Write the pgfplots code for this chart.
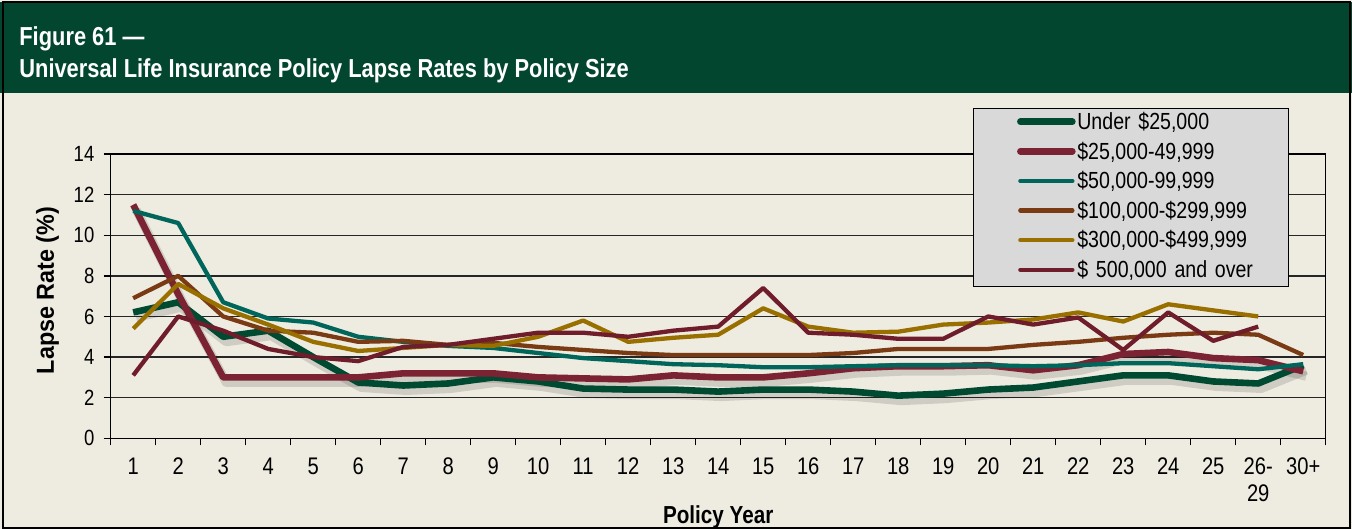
\documentclass[border=0pt]{standalone}
\usepackage{fontspec}
\setmainfont{Liberation Sans}[FakeStretch=0.84]
\newfontfamily\ylabfont{Liberation Sans}[FakeStretch=0.95]
\usepackage{pgfplots}
\usepackage{pgfplotstable}
\pgfplotsset{compat=1.18}
\definecolor{bg}{RGB}{238,236,225}
\definecolor{hdr}{RGB}{2,70,48}
\definecolor{cA}{RGB}{0,74,50}
\definecolor{cB}{RGB}{123,35,50}
\definecolor{cC}{RGB}{0,101,90}
\definecolor{cD}{RGB}{122,58,20}
\definecolor{cE}{RGB}{153,111,0}
\definecolor{cF}{RGB}{111,29,43}
\definecolor{lg}{RGB}{217,217,217}

\pgfplotstableread{
x A B C D E F
1 6.2 11.5 11.2 6.9 5.4 3.1
2 6.7 7.1 10.6 8.0 7.6 6.0
3 5.0 3.0 6.7 6.0 6.4 5.3
4 5.3 3.0 5.9 5.3 5.6 4.4
5 4.0 3.0 5.7 5.2 4.75 4.0
6 2.75 3.0 5.0 4.75 4.3 3.8
7 2.6 3.2 4.75 4.8 4.45 4.5
8 2.7 3.2 4.55 4.6 4.6 4.6
9 3.0 3.2 4.45 4.7 4.55 4.9
10 2.8 3.0 4.2 4.5 5.0 5.2
11 2.45 2.95 3.95 4.35 5.8 5.2
12 2.4 2.9 3.8 4.2 4.75 5.0
13 2.4 3.1 3.65 4.1 4.95 5.3
14 2.3 3.0 3.6 4.1 5.1 5.5
15 2.4 3.0 3.5 4.1 6.4 7.4
16 2.4 3.2 3.5 4.1 5.5 5.2
17 2.3 3.45 3.55 4.2 5.2 5.1
18 2.1 3.55 3.6 4.4 5.25 4.9
19 2.2 3.55 3.6 4.4 5.6 4.9
20 2.4 3.6 3.6 4.4 5.7 6.0
21 2.5 3.35 3.55 4.6 5.85 5.6
22 2.8 3.6 3.6 4.75 6.2 5.95
23 3.1 4.15 3.7 4.95 5.75 4.35
24 3.1 4.25 3.7 5.1 6.6 6.2
25 2.8 3.95 3.55 5.2 6.3 4.8
26 2.7 3.85 3.4 5.1 6.0 5.5
27 3.6 3.3 3.65 4.1 nan nan
}\lapse

\begin{document}
\begin{tikzpicture}
\path[use as bounding box] (0,0) rectangle (676pt,-264.5pt);
\fill[bg] (0,0) rectangle (676pt,-264.5pt);
\fill[hdr] (0,-1pt) rectangle (676pt,-46.5pt);
\draw[black, line width=1pt] (1.5pt,-1pt) rectangle (675pt,-264pt);
\node[anchor=base west, text=white, inner sep=0pt, font=\bfseries\fontsize{13}{15}\selectfont] at (9.5pt,-23pt) {Figure 61 —};
\node[anchor=base west, text=white, inner sep=0pt, font=\bfseries\fontsize{13}{15}\selectfont] at (9.5pt,-39pt) {Universal Life Insurance Policy Lapse Rates by Policy Size};
\begin{axis}[
  at={(55.35pt,-219.15pt)}, anchor=south west,
  scale only axis, width=607.5pt, height=142.15pt,
  xmin=0.5, xmax=27.5, ymin=0, ymax=14,
  ytick={0,2,...,14},
  xtick={1,...,27},
  xticklabels={1,2,3,4,5,6,7,8,9,10,11,12,13,14,15,16,17,18,19,20,21,22,23,24,25,{26-\\29},30+},
  minor xtick={0.5,1.5,...,27.5},
  tick align=outside,
  xtick pos=bottom, ytick pos=left,
  major tick length=3.5pt, minor tick length=3.5pt,
  major x tick style={draw=none},
  minor x tick style={black, line width=0.7pt},
  major y tick style={black, line width=0.7pt},
  ymajorgrids,
  major grid style={black!85, line width=0.7pt},
  axis line style={black, line width=0.7pt},
  /pgf/number format/assume math mode=true,
  yticklabel style={font=\fontsize{11}{13}\selectfont, inner sep=0pt, xshift=-4.5pt},
  xticklabel style={font=\fontsize{12}{13.5}\selectfont, align=center, inner sep=0pt, yshift=-6pt},
  xlabel={Policy Year},
  xlabel style={font=\bfseries\fontsize{12.3}{14}\selectfont, at={(axis description cs:0.5,-0.278)}, anchor=center},
  ylabel={Lapse Rate (\%)},
  ylabel style={font=\ylabfont\bfseries\fontsize{12.3}{14}\selectfont, at={(axis description cs:-0.052,0.52)}, anchor=center},
  legend cell align=left,
  legend image code/.code={\path[draw=none] (-22pt,0pt) -- (29.5pt,0pt); \draw[#1, line cap=round] (1.5pt,0.9pt) -- (27.5pt,0.9pt);},
  legend style={at={(0.7095,1.162)}, anchor=north west, fill=lg, draw=black, line width=0.6pt,
    inner xsep=0pt, inner ysep=1.75pt, row sep=3.3pt, column sep=0.5pt,
    nodes={font=\fontsize{11.65}{14}\selectfont, inner sep=0pt, text height=8.7pt, text depth=2.8pt, text width=105.5pt, align=left}},
  every axis plot/.append style={line join=round},
]
\addplot[forget plot, black, opacity=0.13, line width=4.5pt, transform canvas={xshift=1.5pt,yshift=-2.5pt}] table[x=x,y=A] {\lapse};
\addplot[forget plot, black, opacity=0.13, line width=4.5pt, transform canvas={xshift=1.5pt,yshift=-2.5pt}] table[x=x,y=B] {\lapse};
\addplot[cA, line width=3.3pt] table[x=x,y=A] {\lapse};
\addlegendentry{Under \$25,000}
\addplot[cB, line width=3.3pt] table[x=x,y=B] {\lapse};
\addlegendentry{\$25,000-49,999}
\addplot[cC, line width=2.15pt] table[x=x,y=C] {\lapse};
\addlegendentry{\$50,000-99,999}
\addplot[cD, line width=2.15pt] table[x=x,y=D] {\lapse};
\addlegendentry{\$100,000-\$299,999}
\addplot[cE, line width=2.15pt] table[x=x,y=E] {\lapse};
\addlegendentry{\$300,000-\$499,999}
\addplot[cF, line width=2.15pt] table[x=x,y=F] {\lapse};
\addlegendentry{\$ 500,000 and over}
\end{axis}
\end{tikzpicture}
\end{document}
